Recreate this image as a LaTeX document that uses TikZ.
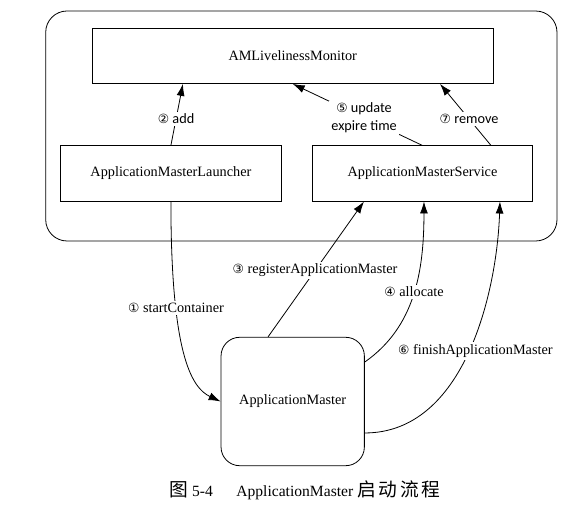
\documentclass[tikz,border=0pt]{standalone}
\usepackage{fontspec}
\setmainfont{Liberation Serif}
\newfontfamily\labelfont{Carlito}
\newfontfamily\circfont{DejaVu Sans}
\newfontfamily\cjkfont[Scale=1.2,LetterSpace=15]{Noto Sans CJK SC}
\usetikzlibrary{arrows.meta,positioning,calc}
\newcommand{\cnum}[1]{{\circfont\fontsize{9.5}{11}\selectfont #1}}

\begin{document}
\begin{tikzpicture}[x=0.75pt,y=-0.75pt,
box/.style={draw,line width=0.6pt,inner sep=0pt,minimum height=41.4pt,font=\fontsize{10.7}{13}\selectfont},
lbl/.style={fill=white,inner sep=1.5pt,font=\labelfont\fontsize{10.7}{13}\selectfont,align=center},
slbl/.style={fill=white,inner sep=1.5pt,font=\fontsize{10.7}{13}\selectfont},
call/.style={line width=0.6pt,-{Latex[length=9pt,width=6pt]}}]
\useasboundingbox (0,0) rectangle (585,505);
\draw[line width=0.6pt,rounded corners=16pt] (45.7,11) rectangle (557,241);
\node[box,minimum width=300.5pt] (aml) at (292.7,55.9) {AMLivelinessMonitor};
\node[box,minimum width=165.2pt] (lau) at (170.9,173.4) {ApplicationMasterLauncher};
\node[box,minimum width=164.7pt] (svc) at (422.5,173.5) {ApplicationMasterService};
\node[box,rounded corners=14pt,minimum width=107.5pt,minimum height=96.3pt] (am) at (292.7,401.5) {ApplicationMaster};
\node[font=\fontsize{11.7}{14}\selectfont] (cap) at (305,490) {{\cjkfont 图} 5-4\hspace{1.5em}ApplicationMaster {\cjkfont 启动流程}};
% inside the RM
\draw[call] (lau.north) -- node[lbl,pos=0.43] {\cnum{②} add} ([xshift=9pt]lau.north |- aml.south);
\draw[call] (svc.north) -- node[lbl,pos=0.45] {\cnum{⑤} update\\expire time} (aml.south);
\draw[call] ([xshift=51.4pt]svc.north) -- node[lbl,pos=0.43] {\cnum{⑦} remove} ([xshift=110.5pt]aml.south);
% to and from the AM
\draw[call] (lau.south) .. controls +(0,150) and +(-30,-14) .. node[slbl,pos=0.3] {\cnum{①} startContainer} (am.west);
\draw[call] ([xshift=-18.5pt]am.north) -- node[slbl,pos=0.49] {\cnum{③} registerApplicationMaster} ([xshift=-43.9pt]svc.south);
\draw[call] ([yshift=29.6pt]am.east) .. controls +(50,-35) and +(0,70) .. node[slbl,pos=0.52] {\cnum{④} allocate} ([xshift=1.1pt]svc.south);
\draw[call] ([yshift=-23.6pt]am.east) .. controls +(100,0) and +(-3,90) .. node[slbl,pos=0.5,xshift=5pt] {\cnum{⑥} finishApplicationMaster} ([xshift=58.1pt]svc.south);
\end{tikzpicture}
\end{document}
